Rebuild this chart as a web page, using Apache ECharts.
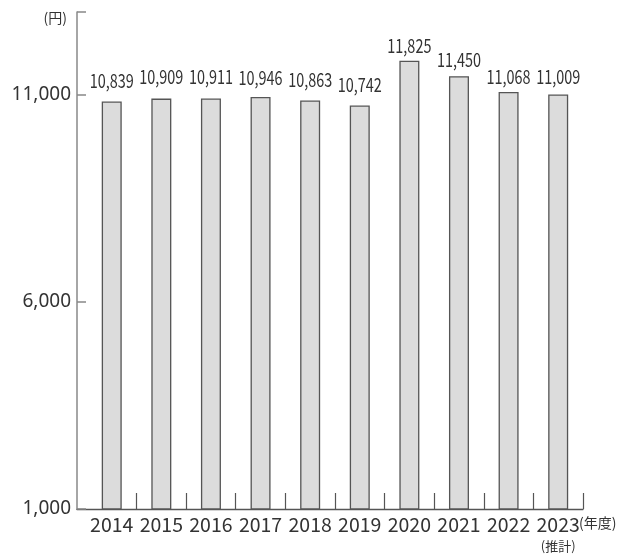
<!DOCTYPE html>
<html>
<head>
<meta charset="utf-8">
<script src="https://cdn.jsdelivr.net/npm/echarts@6/dist/echarts.min.js"></script>
<style>
  html, body { margin: 0; padding: 0; background: #fff; }
  #chart { width: 637px; height: 556px; }
</style>
</head>
<body>
<div id="chart"></div>
<script>
// Fiscal years and the average amount (円) for each
const years = [2014, 2015, 2016, 2017, 2018, 2019, 2020, 2021, 2022, 2023];
const amounts = [10839, 10909, 10911, 10946, 10863, 10742, 11825, 11450, 11068, 11009];
const yTickLabels = [1000, 6000, 11000];
// gap (px) between each bar top and its value label
const labelGap = [11, 12, 12, 10, 11, 11, 5, 7, 6, 8];

const axisFont = "'Noto Sans', 'Noto Sans CJK JP', sans-serif";
const cjkFont = "'Noto Sans CJK JP', sans-serif";

const chart = echarts.init(document.getElementById('chart'), null, { renderer: 'canvas' });

const points = years.map((y, i) => [y, amounts[i]]);
const fmt = v => v.toLocaleString('en-US');

chart.setOption({
  animation: false,
  grid: { left: 77, right: 54, top: 12, bottom: 46 },
  xAxis: {
    type: 'value',
    min: 2013.3,
    max: 2023.5,
    splitLine: { show: false },
    axisLine: { lineStyle: { color: '#555', width: 1.3 } },
    axisTick: {
      inside: true,
      length: 16,
      customValues: years.map(y => y + 0.5),
      lineStyle: { color: '#555', width: 1.2 }
    },
    axisLabel: {
      customValues: years,
      margin: 5,
      color: '#333',
      fontFamily: cjkFont,
      fontSize: 19.5,
      lineHeight: 22,
      formatter: v => v === 2023 ? '2023\n{s|(推計)}' : String(v),
      rich: { s: { fontFamily: cjkFont, fontSize: 13, lineHeight: 20, color: '#333' } }
    },
    name: '(年度)',
    nameLocation: 'end',
    nameGap: -4,
    nameMoveOverlap: false,
    nameTextStyle: {
      fontFamily: cjkFont, fontSize: 14, color: '#333',
      align: 'left', verticalAlign: 'top', padding: [7, 0, 0, 0]
    }
  },
  yAxis: {
    type: 'value',
    min: 1000,
    max: 13000,
    splitLine: { show: false },
    axisLine: { show: true, lineStyle: { color: '#888', width: 1.5 } },
    axisTick: {
      show: true,
      inside: true,
      length: 9,
      customValues: [1000, 6000, 11000, 13000],
      lineStyle: { color: '#888', width: 1.5 }
    },
    axisLabel: {
      customValues: yTickLabels,
      margin: 6,
      color: '#333',
      fontFamily: axisFont,
      fontSize: 19,
      formatter: fmt
    },
    name: '(円)',
    nameLocation: 'end',
    nameGap: -6,
    nameMoveOverlap: false,
    nameTextStyle: {
      fontFamily: cjkFont, fontSize: 14, color: '#333',
      align: 'right', verticalAlign: 'middle', padding: [0, 10, 0, 0]
    }
  },
  series: [
    {
      type: 'bar',
      data: points,
      barWidth: 20,
      itemStyle: { color: '#dcdcdc', borderColor: '#555', borderWidth: 1.3 }
    },
    {
      // value labels above the bars, set in a narrowed face
      type: 'custom',
      data: points,
      silent: true,
      renderItem: (params, api) => {
        const pt = api.coord([api.value(0), api.value(1)]);
        return {
          type: 'text',
          x: pt[0],
          y: pt[1] - labelGap[params.dataIndex],
          scaleX: 0.78,
          style: {
            text: fmt(api.value(1)),
            font: "18.5px 'Noto Sans CJK JP', sans-serif",
            fill: '#333',
            align: 'center',
            verticalAlign: 'bottom'
          }
        };
      }
    }
  ]
});
</script>
</body>
</html>
